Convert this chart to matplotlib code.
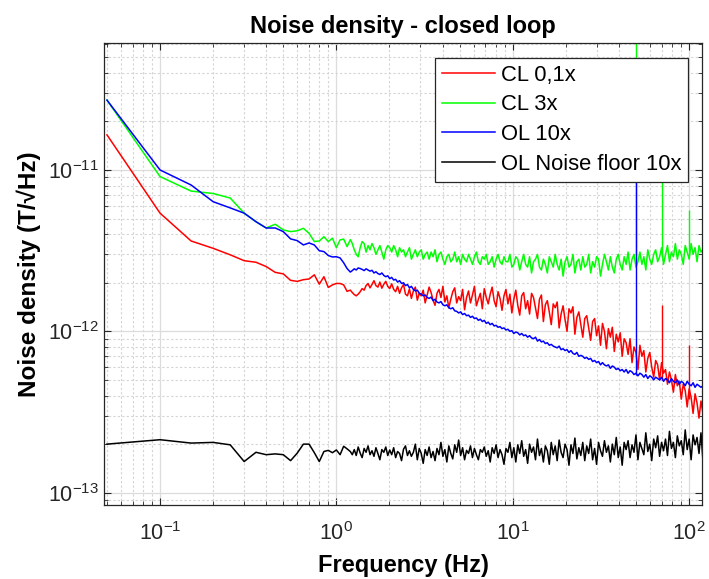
import numpy as np
import matplotlib
matplotlib.use('Agg')
import matplotlib.pyplot as plt
from matplotlib.ticker import LogLocator, NullFormatter

plt.rcParams['font.family'] = ['Liberation Sans', 'DejaVu Sans']
plt.rcParams['mathtext.fontset'] = 'custom'
plt.rcParams['mathtext.rm'] = 'Liberation Sans'

# values in pT/sqrt(Hz)
# low part: FFT bins 0.05 .. 1.15 Hz
freq_lo = np.arange(1, 24) * 0.05
red_lo = [16.5, 5.4, 3.63, 3.27, 2.98, 2.74, 2.68, 2.52, 2.32, 2.27, 2.07, 2.04,
          2.09, 2.11, 2.24, 1.96, 2.18, 1.87, 1.94, 1.98, 1.98, 1.94, 1.77]
green_lo = [27.1, 9.1, 7.4, 7.15, 6.7, 5.4, 4.78, 4.37, 4.61, 4.25, 4.15, 4.2,
            4.35, 4.05, 3.6, 3.63, 3.86, 3.6, 3.78, 3.3, 3.69, 3.73, 3.35]
blue_lo = [27.1, 10.0, 8.07, 6.36, 5.82, 5.4, 4.78, 4.37, 4.37, 4.15, 3.74, 3.65,
           3.43, 3.53, 3.43, 3.16, 3.12, 2.95, 2.89, 2.9, 2.85, 2.66, 2.45]
black_lo = [0.200, 0.213, 0.203, 0.205, 0.198, 0.156, 0.178, 0.172, 0.174, 0.172,
            0.158, 0.176, 0.200, 0.200, 0.177, 0.156, 0.180, 0.183, 0.177, 0.184,
            0.172, 0.194, 0.187]

# dense part: 1.2 .. 120 Hz
freq_hi = np.geomspace(1.2, 120, 180)
red_hi = [
    1.80, 1.74, 1.69, 1.66, 1.70, 1.76, 1.84, 1.80, 1.92, 1.98, 1.86, 1.95, 2.06, 1.92, 1.88, 2.02, 1.85, 1.96, 2.04, 1.90,
    1.84, 1.97, 1.82, 1.76, 1.90, 1.72, 1.86, 1.95, 1.70, 1.66, 1.83, 1.60, 1.78, 1.88, 1.56, 1.72, 1.66, 1.80, 1.50, 1.68,
    1.88, 1.74, 1.56, 1.45, 1.72, 1.82, 1.62, 1.90, 1.52, 1.66, 1.40, 1.58, 1.76, 1.86, 1.50, 1.64, 1.55, 1.82, 1.36, 1.62,
    1.78, 1.50, 1.68, 1.90, 1.44, 1.58, 1.72, 1.38, 1.84, 1.62, 1.48, 1.70, 1.88, 1.55, 1.42, 1.76, 1.60, 1.35, 1.66, 1.82,
    1.48, 1.70, 1.30, 1.58, 1.80, 1.45, 1.26, 1.66, 1.74, 1.38, 1.55, 1.28, 1.72, 1.62, 1.40, 1.20, 1.58, 1.68, 1.15, 1.46,
    1.55, 1.32, 1.10, 1.48, 1.40, 1.52, 1.05, 1.28, 1.44, 1.18, 1.00, 1.38, 1.30, 1.42, 0.96, 1.22, 1.32, 1.10, 0.92, 1.20,
    1.25, 1.05, 0.88, 1.15, 1.20, 0.94, 1.08, 0.82, 1.12, 1.00, 0.78, 1.04, 0.92, 1.06, 0.75, 0.96, 0.86, 0.98, 0.70, 0.90,
    0.85, 0.72, 0.90, 0.64, 0.80, 0.74, 0.58, 0.82, 0.70, 0.76, 0.56, 0.68, 0.74, 0.60, 0.52, 0.66, 0.62, 0.50, 0.64, 0.55,
    0.58, 0.47, 0.56, 0.50, 0.42, 0.54, 0.46, 0.49, 0.38, 0.47, 0.43, 0.34, 0.44, 0.39, 0.31, 0.41, 0.36, 0.29, 0.37, 0.31]
green_hi = [
    3.7, 3.5, 3.2, 3.0, 2.9, 3.3, 3.6, 3.5, 3.1, 3.4, 3.2, 3.5, 3.3, 3.0, 3.2, 3.4, 3.1, 2.8, 3.2, 3.4,
    3.3, 3.1, 3.4, 3.2, 2.9, 3.3, 3.1, 3.2, 2.9, 3.1, 3.3, 2.8, 3.0, 3.2, 2.9, 3.1, 3.2, 2.8, 3.0, 3.1,
    2.8, 3.1, 2.9, 3.2, 2.7, 3.0, 3.1, 2.8, 2.6, 2.9, 3.0, 2.7, 2.8, 3.1, 2.7, 2.9, 2.6, 3.0, 2.8, 2.7,
    3.0, 2.8, 2.6, 2.9, 3.1, 2.7, 2.6, 2.9, 2.8, 3.0, 2.6, 2.7, 2.9, 2.5, 2.8, 3.0, 2.7, 2.6, 2.9, 2.7,
    2.7, 3.0, 2.5, 2.6, 2.9, 2.8, 2.4, 2.7, 3.0, 2.6, 2.5, 2.9, 2.3, 2.7, 2.8, 3.0, 2.5, 2.4, 2.8, 2.6,
    2.3, 2.9, 2.7, 2.5, 3.0, 2.6, 2.4, 2.8, 2.2, 2.7, 2.9, 2.5, 2.6, 3.0, 2.3, 2.7, 2.8, 2.4, 2.9, 2.5,
    2.6, 3.0, 2.3, 2.7, 2.5, 2.9, 2.8, 2.2, 2.6, 3.0, 2.7, 2.4, 2.9, 2.5, 2.3, 2.8, 3.0, 2.6, 2.4, 2.9,
    2.6, 3.1, 2.4, 2.8, 3.0, 2.5, 2.7, 3.1, 2.6, 2.9, 2.4, 3.2, 2.8, 2.6, 3.0, 3.2, 2.7, 2.9, 3.3, 2.6,
    3.0, 3.4, 2.7, 3.1, 2.9, 3.5, 2.8, 3.2, 3.0, 2.6, 3.4, 3.1, 2.8, 3.5, 3.0, 3.3, 2.7, 3.4, 3.1, 3.2]
blue_hi = [
    2.33, 2.38, 2.44, 2.40, 2.47, 2.45, 2.42, 2.38, 2.44, 2.40, 2.36, 2.39, 2.30, 2.34, 2.28, 2.25, 2.30, 2.22, 2.18, 2.21,
    2.12, 2.16, 2.08, 2.10, 2.02, 2.06, 1.98, 2.00, 1.92, 1.95, 1.86, 1.90, 1.82, 1.78, 1.80, 1.72, 1.70, 1.66, 1.68, 1.62,
    1.60, 1.63, 1.55, 1.58, 1.52, 1.50, 1.53, 1.46, 1.44, 1.46, 1.40, 1.38, 1.40, 1.34, 1.33, 1.30, 1.32, 1.27, 1.29, 1.25,
    1.26, 1.22, 1.24, 1.20, 1.21, 1.17, 1.19, 1.15, 1.17, 1.12, 1.14, 1.10, 1.12, 1.08, 1.09, 1.06, 1.07, 1.04, 1.05, 1.02,
    1.03, 1.00, 1.01, 0.97, 0.99, 0.98, 0.95, 0.97, 0.94, 0.95, 0.92, 0.94, 0.91, 0.90, 0.92, 0.87, 0.89, 0.86, 0.87, 0.84,
    0.85, 0.82, 0.83, 0.81, 0.80, 0.79, 0.81, 0.77, 0.78, 0.76, 0.77, 0.74, 0.76, 0.73, 0.72, 0.74, 0.70, 0.71, 0.70, 0.68,
    0.69, 0.67, 0.68, 0.65, 0.66, 0.64, 0.65, 0.62, 0.64, 0.62, 0.61, 0.62, 0.59, 0.61, 0.60, 0.58, 0.59, 0.57, 0.58, 0.56,
    0.58, 0.55, 0.57, 0.56, 0.54, 0.55, 0.53, 0.55, 0.54, 0.52, 0.54, 0.51, 0.53, 0.52, 0.50, 0.52, 0.51, 0.50, 0.52, 0.49,
    0.51, 0.50, 0.48, 0.51, 0.49, 0.48, 0.50, 0.47, 0.49, 0.48, 0.46, 0.49, 0.47, 0.46, 0.48, 0.45, 0.47, 0.46, 0.45, 0.46]
black_hi = [
    0.180, 0.172, 0.185, 0.170, 0.192, 0.176, 0.165, 0.188, 0.178, 0.195, 0.172, 0.182, 0.168, 0.190, 0.175, 0.160, 0.185, 0.178, 0.192, 0.170,
    0.184, 0.172, 0.190, 0.165, 0.180, 0.175, 0.158, 0.186, 0.195, 0.170, 0.182, 0.168, 0.178, 0.200, 0.160, 0.188, 0.175, 0.152, 0.185, 0.170,
    0.192, 0.165, 0.180, 0.158, 0.188, 0.172, 0.205, 0.168, 0.185, 0.155, 0.195, 0.175, 0.162, 0.198, 0.178, 0.212, 0.170, 0.190, 0.160, 0.183,
    0.175, 0.195, 0.165, 0.188, 0.172, 0.160, 0.185, 0.178, 0.192, 0.168, 0.182, 0.155, 0.190, 0.175, 0.198, 0.165, 0.185, 0.172, 0.150, 0.188,
    0.178, 0.205, 0.165, 0.190, 0.155, 0.198, 0.175, 0.210, 0.168, 0.185, 0.152, 0.200, 0.178, 0.192, 0.160, 0.215, 0.170, 0.188, 0.155, 0.195,
    0.182, 0.150, 0.205, 0.172, 0.195, 0.158, 0.212, 0.178, 0.165, 0.200, 0.185, 0.148, 0.198, 0.175, 0.218, 0.162, 0.190, 0.170, 0.205, 0.158,
    0.195, 0.175, 0.215, 0.160, 0.188, 0.150, 0.205, 0.182, 0.168, 0.210, 0.178, 0.195, 0.155, 0.200, 0.172, 0.220, 0.165, 0.192, 0.148, 0.205,
    0.185, 0.210, 0.165, 0.198, 0.178, 0.228, 0.160, 0.205, 0.188, 0.172, 0.235, 0.180, 0.200, 0.158, 0.215, 0.190, 0.225, 0.168, 0.205, 0.182,
    0.215, 0.170, 0.240, 0.188, 0.205, 0.165, 0.225, 0.195, 0.210, 0.172, 0.245, 0.185, 0.215, 0.160, 0.228, 0.198, 0.220, 0.175, 0.235, 0.158]

# mains / interference lines (freq, base, peak) in pT
red_spk_f, red_spk_lo, red_spk_hi = [70, 100], [0.5, 0.38], [1.46, 0.82]
green_spk_f, green_spk_lo, green_spk_hi = [50, 70, 100], [2.7, 2.9, 3.0], [90, 15, 5.65]
blue_spk_f, blue_spk_lo, blue_spk_hi = [50], [0.54], [20]

labels = ['CL 0,1x', 'CL 3x', 'OL 10x', 'OL Noise floor 10x']

freq = np.concatenate([freq_lo, freq_hi])
sc = 1e-12
lw = 1.1

fig = plt.figure(figsize=(7.09, 5.79), dpi=100)
ax = fig.add_axes([0.1467, 0.1278, 0.8434, 0.7979])

l1, = ax.plot(freq, np.array(red_lo + red_hi) * sc, color='#ff0000', lw=lw)
ax.vlines(red_spk_f, np.array(red_spk_lo) * sc, np.array(red_spk_hi) * sc, color='#ff0000', lw=1.0)
l2, = ax.plot(freq, np.array(green_lo + green_hi) * sc, color='#00ff00', lw=lw)
ax.vlines(green_spk_f, np.array(green_spk_lo) * sc, np.array(green_spk_hi) * sc, color='#00ff00', lw=1.0)
l3, = ax.plot(freq, np.array(blue_lo + blue_hi) * sc, color='#0000ff', lw=lw)
ax.vlines(blue_spk_f, np.array(blue_spk_lo) * sc, np.array(blue_spk_hi) * sc, color='#0000ff', lw=1.0)
l4, = ax.plot(freq, np.array(black_lo + black_hi) * sc, color='#000000', lw=lw)

ax.set_xscale('log')
ax.set_yscale('log')
ax.set_xlim(0.0481, 118.5)
ax.set_ylim(8.39e-14, 6.12e-11)

ax.yaxis.set_major_locator(LogLocator(base=10, numticks=10))
ax.yaxis.set_minor_locator(LogLocator(base=10, subs=np.arange(2, 10), numticks=20))
ax.xaxis.set_minor_locator(LogLocator(base=10, subs=np.arange(2, 10), numticks=20))
ax.xaxis.set_minor_formatter(NullFormatter())
ax.yaxis.set_minor_formatter(NullFormatter())

ax.set_axisbelow(True)
ax.grid(True, which='major', color='#dcdcdc', lw=0.9, ls='-')
ax.grid(True, which='minor', color='#d4d4d4', lw=0.8, ls=(0, (2, 2)))

ax.tick_params(which='both', direction='in', top=True, right=True,
               color='#262626', labelcolor='#262626', labelsize=15.5)
ax.tick_params(which='major', length=5, width=0.8)
ax.tick_params(which='minor', length=3, width=0.6)
ax.tick_params(axis='x', pad=12)
ax.tick_params(axis='y', pad=4)
for s in ax.spines.values():
    s.set_color('#262626')
    s.set_linewidth(0.9)

ax.set_title('Noise density - closed loop', fontsize=17, fontweight='bold', pad=7)
ax.set_xlabel('Frequency (Hz)', fontsize=17, fontweight='bold', labelpad=7)
ax.set_ylabel('Noise density (T/\u221aHz)', fontsize=17.5, fontweight='bold', labelpad=5)

leg = ax.legend([l1, l2, l3, l4], labels, loc='upper right',
                bbox_to_anchor=(0.9766, 0.9675), borderaxespad=0,
                fontsize=15.8, fancybox=False, framealpha=1,
                edgecolor='#262626', handlelength=2.45, handletextpad=0.25,
                labelspacing=0.4, borderpad=0.3)
leg.get_frame().set_linewidth(0.9)

fig.savefig('out.png', dpi=100, facecolor='white')
